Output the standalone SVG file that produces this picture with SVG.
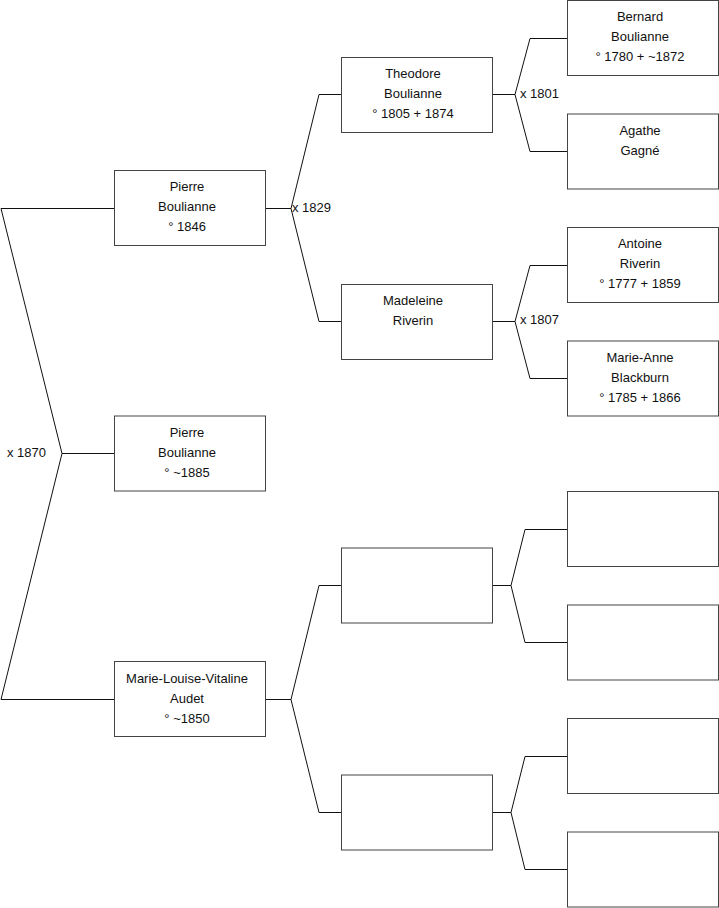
<svg xmlns="http://www.w3.org/2000/svg" width="719" height="908" viewBox="0 0 719 908">
<style>
.box{fill:#fff;stroke:#444;stroke-width:1}
.ln{fill:none;stroke:#111;stroke-width:1}
text{font-family:"Liberation Sans",Arial,sans-serif;font-size:13px;fill:#111}
.c{text-anchor:middle}
</style>
<rect width="719" height="908" fill="#fff"/>
<g id="connectors">
<path class="ln" d="M114,208.5 H1 L62,453.5 L1,699.5 H114 M62,453.5 H114"/>
<path class="ln" d="M341,94.5 H319 L291,208.5 L319,321.5 H341 M265,208.5 H291"/>
<path class="ln" d="M341,585.5 H319 L291,699.5 L319,812.5 H341 M265,699.5 H291"/>
<path class="ln" d="M567,38.5 H530 L515,94.5 L530,151.5 H567 M492,94.5 H515"/>
<path class="ln" d="M567,265.5 H530 L515,321.5 L530,378.5 H567 M492,321.5 H515"/>
<path class="ln" d="M567,529.5 H525 L511,585.5 L525,642.5 H567 M492,585.5 H511"/>
<path class="ln" d="M567,756.5 H525 L511,812.5 L525,869.5 H567 M492,812.5 H511"/>
<text x="7" y="456.5">x 1870</text>
<text x="292" y="212">x 1829</text>
<text x="520" y="98">x 1801</text>
<text x="520" y="324">x 1807</text>
</g>
<g id="n_pierre_1846"><rect class="box" x="114.5" y="170.5" width="151" height="75"/>
<text class="c" x="187" y="191">Pierre</text><text class="c" x="187" y="211">Boulianne</text><text class="c" x="187" y="231">° 1846</text></g>
<g id="n_pierre_1885"><rect class="box" x="114.5" y="416" width="151" height="75"/>
<text class="c" x="187" y="437">Pierre</text><text class="c" x="187" y="457">Boulianne</text><text class="c" x="187" y="477">° ~1885</text></g>
<g id="n_marie_louise"><rect class="box" x="114.5" y="661.5" width="151" height="75"/>
<text class="c" x="187" y="682.5">Marie-Louise-Vitaline</text><text class="c" x="187" y="702.5">Audet</text><text class="c" x="187" y="722.5">° ~1850</text></g>
<g id="n_theodore"><rect class="box" x="341.5" y="57.5" width="151" height="75"/>
<text class="c" x="413" y="78">Theodore</text><text class="c" x="413" y="98">Boulianne</text><text class="c" x="413" y="118">° 1805 + 1874</text></g>
<g id="n_madeleine"><rect class="box" x="341.5" y="284.5" width="151" height="75"/>
<text class="c" x="413" y="305">Madeleine</text><text class="c" x="413" y="325">Riverin</text></g>
<g id="n_empty_l2a"><rect class="box" x="341.5" y="548" width="151" height="75"/></g>
<g id="n_empty_l2b"><rect class="box" x="341.5" y="775" width="151" height="75"/></g>
<g id="n_bernard"><rect class="box" x="567.5" y="0.5" width="151" height="75"/>
<text class="c" x="640" y="21">Bernard</text><text class="c" x="640" y="41">Boulianne</text><text class="c" x="640" y="61">° 1780 + ~1872</text></g>
<g id="n_agathe"><rect class="box" x="567.5" y="114" width="151" height="75"/>
<text class="c" x="640" y="134.5">Agathe</text><text class="c" x="640" y="154.5">Gagné</text></g>
<g id="n_antoine"><rect class="box" x="567.5" y="227.5" width="151" height="75"/>
<text class="c" x="640" y="248">Antoine</text><text class="c" x="640" y="268">Riverin</text><text class="c" x="640" y="288">° 1777 + 1859</text></g>
<g id="n_marie_anne"><rect class="box" x="567.5" y="341" width="151" height="75"/>
<text class="c" x="640" y="361.5">Marie-Anne</text><text class="c" x="640" y="381.5">Blackburn</text><text class="c" x="640" y="401.5">° 1785 + 1866</text></g>
<g id="n_empty_l3a"><rect class="box" x="567.5" y="491.5" width="151" height="75"/></g>
<g id="n_empty_l3b"><rect class="box" x="567.5" y="605" width="151" height="75"/></g>
<g id="n_empty_l3c"><rect class="box" x="567.5" y="718.5" width="151" height="75"/></g>
<g id="n_empty_l3d"><rect class="box" x="567.5" y="832" width="151" height="75"/></g>
</svg>
